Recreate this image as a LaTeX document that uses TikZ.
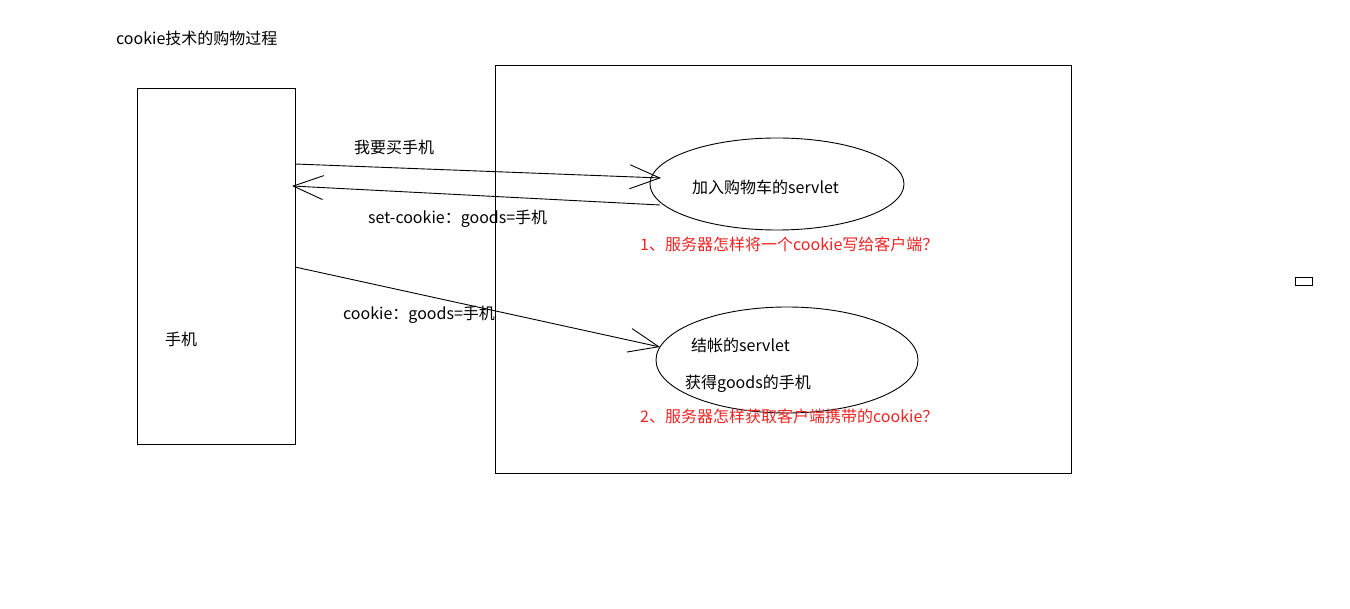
\documentclass[tikz,border=0pt]{standalone}
\usepackage{fontspec}
\setmainfont{Noto Sans CJK SC}
\usetikzlibrary{shapes.geometric,arrows.meta}
\definecolor{qred}{RGB}{240,35,35}
\begin{document}
\begin{tikzpicture}[x=1pt,y=-1pt,
  box/.style={draw,line width=0.9pt,inner sep=0pt,anchor=north west},
  oval/.style={draw,ellipse,line width=0.9pt,inner sep=0pt},
  txt/.style={anchor=west,inner sep=0pt,font=\fontsize{16}{19}\selectfont},
  qtxt/.style={txt,text=qred},
  msg/.style={line width=0.9pt,-{Straight Barb[length=30pt,width=24pt,line width=0.9pt]}}]
\useasboundingbox[fill=white] (0,0) rectangle (1350,609);
\node[txt] (title) at (116,38) {cookie技术的购物过程};
\node[box,minimum width=158pt,minimum height=356pt] (phone) at (137,88) {};
\node[txt] (phonetxt) at (165,339) {手机};
\node[box,minimum width=576pt,minimum height=408pt] (server) at (495,65) {};
\node[oval,minimum width=254pt,minimum height=92pt] (cart) at (777,184) {};
\node[txt] (carttxt) at (692,187) {加入购物车的servlet};
\node[qtxt] (q1) at (640,244) {1、服务器怎样将一个cookie写给客户端？};
\node[oval,minimum width=262pt,minimum height=106pt] (pay) at (787,360) {};
\node[txt] (paytxt) at (691,345) {结帐的servlet};
\node[txt] (gettxt) at (685,384) {获得goods的手机};
\node[qtxt] (q2) at (640,416) {2、服务器怎样获取客户端携带的cookie？};
\node[box,minimum width=17pt,minimum height=8pt] (tiny) at (1295,277) {};
\coordinate (a1s) at (295,164);
\coordinate (a1e) at (661,178);
\coordinate (a2s) at (660,205);
\coordinate (a2e) at (292,186);
\coordinate (a3s) at (295,267);
\coordinate (a3e) at (660,347);
\draw[msg] (a1s) -- (a1e);
\draw[msg] (a2s) -- (a2e);
\draw[msg] (a3s) -- (a3e);
\node[txt] (l1) at (354,147) {我要买手机};
\node[txt] (l2) at (368,219) {set-cookie：goods=手机};
\node[txt] (l3) at (343,315) {cookie：goods=手机};
\end{tikzpicture}
\end{document}
